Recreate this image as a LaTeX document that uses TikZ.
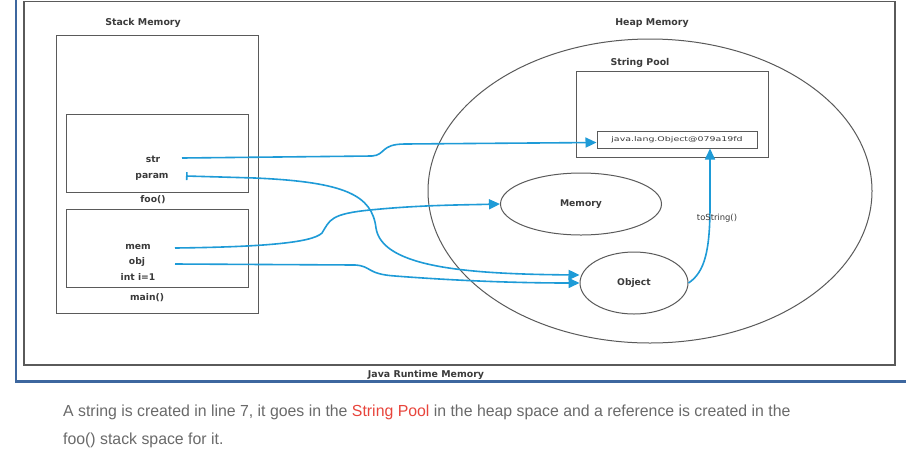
\documentclass[tikz,border=0pt]{standalone}
\usepackage{fontspec}
\setmainfont{Liberation Sans}
\newfontfamily\labelfont{DejaVu Sans}
\usetikzlibrary{shapes.geometric,arrows.meta}
\definecolor{framegray}{HTML}{5A5A5A}
\definecolor{arrowblue}{HTML}{1E9BD7}
\definecolor{edgeblue}{HTML}{3D679F}
\definecolor{labelgray}{HTML}{3A3A3A}
\definecolor{bodygray}{HTML}{6A6A6A}
\definecolor{poolred}{HTML}{E8453C}
\tikzset{
  box/.style={draw=framegray, line width=1pt, rectangle, inner sep=0pt},
  oval/.style={draw=framegray, line width=1pt, ellipse, inner sep=0pt},
  title/.style={font=\labelfont\fontsize{9.4}{11}\selectfont\bfseries, text=labelgray, inner sep=0pt},
  var/.style={font=\labelfont\fontsize{9.2}{11}\selectfont\bfseries, text=labelgray, inner sep=0pt},
  ref/.style={draw=arrowblue, line width=1.6pt, -{Triangle[length=11pt,width=10pt]}},
}
\begin{document}
\begin{tikzpicture}[x=1pt,y=-1pt]
\useasboundingbox[fill=white] (0,0) rectangle (912,456);
% frames
\draw[edgeblue, line width=1.6pt] (16,0) -- (16,381);
\draw[edgeblue, line width=3pt] (15.2,381) -- (906,381);
\draw[framegray, line width=1.2pt] (24,1.5) rectangle (895,365);
\node[title] (jrm) at (426,375) {Java Runtime Memory};
% stack
\node[title] (stacktitle) at (143,23) {Stack Memory};
\node[box, minimum width=202, minimum height=278] (stack) at (157,174) {};
\node[box, minimum width=182, minimum height=78] (foo) at (157,153) {};
\node[box, minimum width=182, minimum height=78] (main) at (157,248) {};
\node[var] (foolbl) at (153,200) {foo()};
\node[var] (mainlbl) at (147,298) {main()};
\node[var] (str) at (153,159) {str};
\node[var] (param) at (152,177) {param};
\node[var] (mem) at (138,247) {mem};
\node[var] (obj) at (137,262) {obj};
\node[var] (inti) at (138,277) {int i=1};
% heap
\node[title] (heaptitle) at (652,23) {Heap Memory};
\node[oval, minimum width=444, minimum height=304] (heap) at (650,191) {};
\node[title] (pooltitle) at (640,63) {String Pool};
\node[box, minimum width=160, minimum height=17,
      font=\labelfont\fontsize{6.5}{7}\selectfont, text=labelgray] (sobj) at (677,139.5) {\scalebox{1.45}[1]{java.lang.Object@079a19fd}};
\node[box, minimum width=192, minimum height=86] (pool) at (672,114) {};
\node[oval, minimum width=161, minimum height=62, font=\labelfont\fontsize{9.2}{11}\selectfont\bfseries, text=labelgray] (memE) at (581,204) {Memory};
\node[oval, minimum width=108, minimum height=62, font=\labelfont\fontsize{9.2}{11}\selectfont\bfseries, text=labelgray] (objE) at (634,283) {Object};
% reference start points
\coordinate (strS) at (182,158);
\coordinate (paramS) at (186,176);
\coordinate (memS) at (175,248);
\coordinate (objS) at (175,264);
% arrows
\draw[ref] (strS) -- (372,156) .. controls (386,155) and (380,144) .. (405,144) -- ([yshift=-3pt]sobj.west);
\draw[draw=arrowblue, line width=1.6pt, {Bar[width=8pt]}-{Triangle[length=11pt,width=10pt]}]
  (paramS) -- (255,178) .. controls (345,182) and (372,195) .. (376,228)
  .. controls (382,268) and (470,274) .. ([yshift=8pt]objE.west);
\draw[ref] (memS) .. controls (260,247) and (312,243) .. (322,233)
  .. controls (330,220) and (330,214) .. (370,210) .. controls (420,205) and (460,205) .. (memE.west);
\draw[ref] (objS) -- (355,265) .. controls (372,266) and (366,274) .. (395,276)
  .. controls (460,281) and (520,283) .. (objE.west);
\draw[ref] (objE.east) .. controls (705,272) and (710,250) .. (710,205) -- ([xshift=33pt]sobj.south);
\node[font=\labelfont\fontsize{8.4}{10}\selectfont, text=labelgray, inner sep=0pt] (tostr) at (717,218) {toString()};
% caption
\node[anchor=west, inner sep=0pt, font=\fontsize{16}{19}\selectfont, text=bodygray] (cap1) at (63,412)
  {\scalebox{0.99}[1]{A string is created in line 7, it goes in the \textcolor{poolred}{String Pool} in the heap space and a reference is created in the}};
\node[anchor=west, inner sep=0pt, font=\fontsize{16}{19}\selectfont, text=bodygray] (cap2) at (63,440)
  {\scalebox{0.99}[1]{foo() stack space for it.}};
\end{tikzpicture}
\end{document}
